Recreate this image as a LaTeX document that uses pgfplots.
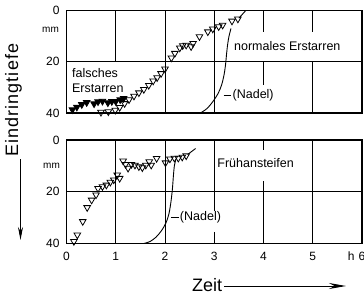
\documentclass[border=0pt]{standalone}
\usepackage{fontspec}
\setmainfont{Liberation Sans}
\newfontfamily\spacedfont[LetterSpace=6]{Liberation Sans}
\usepackage{pgfplots}
\pgfplotsset{compat=1.18}
\usetikzlibrary{arrows.meta}

\pgfplotstableread{
x y
0.12 38.7
0.21 37.7
0.31 36.7
0.41 35.9
0.56 36.4
0.64 35.6
0.73 35.4
0.84 36.0
0.92 35.5
1.00 35.5
1.09 34.8
1.16 34.3
}\topfilled

\pgfplotstableread{
x y
0.70 39.7
0.85 39.5
0.99 38.9
1.08 37.8
1.18 36.3
1.27 34.8
1.37 33.4
1.47 32.1
1.57 30.8
1.67 29.2
1.76 27.5
1.84 26.2
1.92 24.6
2.00 22.8
2.13 18.5
2.20 16.7
2.30 14.6
2.36 13.7
2.43 13.5
2.53 14.1
2.57 12.8
2.70 10.2
2.87 8.3
2.97 7.2
3.09 6.3
3.17 5.7
3.36 4.1
3.48 3.3
}\topopen

\pgfplotstableread{
x y
0.15 39.2
0.22 36.7
0.33 31.5
0.42 26.1
0.51 23.2
0.60 21.2
0.64 18.7
0.73 18.0
0.81 17.4
0.89 16.3
0.96 15.4
1.03 13.5
1.08 14.8
1.15 8.1
1.20 9.4
1.25 10.9
1.32 9.4
1.39 9.7
1.47 10.3
1.54 10.7
1.61 9.7
1.68 8.4
1.72 9.7
1.83 7.1
2.01 8.8
2.10 7.3
2.19 7.0
2.27 7.0
2.35 6.6
2.43 6.1
}\botopen

\tikzset{gl/.style={line width=0.7pt}}

\begin{document}
\begin{tikzpicture}[x=1pt,y=1pt]
\useasboundingbox (0,0) rectangle (364,298);
\pgfplotsset{
  base/.style={
    scale only axis, width=295.5pt,
    xmin=0, xmax=6, ymin=0, ymax=40, y dir=reverse,
    axis line style={line width=1.1pt},
    major tick length=0pt,
    ytick={0,20,40}, xtick={0,1,2,3,4,5,6},
    /pgf/number format/assume math mode=true,
    yticklabel style={font=\fontsize{12}{12}\selectfont, xshift=-3.5pt},
    xticklabel style={font=\fontsize{12}{12}\selectfont, yshift=-5pt},
    clip=false,
    tick style={draw=none},
  },
  op/.style={only marks, mark=triangle, mark size=3.8pt, mark options={rotate=180, line width=0.8pt, fill=white}},
  fl/.style={only marks, mark=triangle*, mark size=3.8pt, mark options={rotate=180, line width=0.8pt, fill=black}},
  nd/.style={smooth, line width=0.9pt, no marks},
}

% ---------- top axis ----------
\begin{axis}[base, height=102.5pt, at={(66.5pt,185pt)}, anchor=south west, xticklabels={}]
\draw[gl] (axis cs:1,0) -- (axis cs:1,20);
\draw[gl] (axis cs:2,0) -- (axis cs:2,40);
\draw[gl] (axis cs:3,0) -- (axis cs:3,40);
\draw[gl] (axis cs:4,0) -- (axis cs:4,8.4);
\draw[gl] (axis cs:4,20) -- (axis cs:4,29);
\draw[gl] (axis cs:5,0) -- (axis cs:5,8.4);
\draw[gl] (axis cs:5,20) -- (axis cs:5,40);
\draw[gl] (axis cs:0,20) -- (axis cs:6,20);
\addplot[op] table {\topopen};
\addplot[fl] table {\topfilled};
\addplot[nd] coordinates {(2.72,40) (2.85,38.3) (2.97,35.6) (3.08,32.3) (3.15,29) (3.20,25) (3.23,21) (3.25,17) (3.27,13.5) (3.30,10) (3.34,7)};
\addplot[line width=0.9pt, no marks] coordinates {(3.50,3.0) (3.64,0)};
\node[anchor=west, align=left, inner sep=0pt, font=\fontsize{12.5}{14.7}\selectfont] at (axis cs:0.11,27.2) {falsches\\Erstarren};
\node[anchor=west, inner sep=0pt, font=\fontsize{12.5}{12.5}\selectfont] at (axis cs:3.40,13.9) {normales Erstarren};
\draw[line width=0.8pt] (axis cs:3.19,33) -- (axis cs:3.35,33);
\node[anchor=west, inner sep=0pt, font=\fontsize{12.5}{12.5}\selectfont] at (axis cs:3.37,33) {(Nadel)};
\end{axis}

% ---------- bottom axis ----------
\begin{axis}[base, height=103.5pt, at={(66.5pt,54.5pt)}, anchor=south west,
  xticklabels={0,1,2,3,4,5,{\llap{h\hspace{4pt}}6}}]
\draw[gl] (axis cs:1,0) -- (axis cs:1,40);
\draw[gl] (axis cs:2,0) -- (axis cs:2,40);
\draw[gl] (axis cs:3,0) -- (axis cs:3,27.5);
\draw[gl] (axis cs:3,35.5) -- (axis cs:3,40);
\draw[gl] (axis cs:4,0) -- (axis cs:4,4);
\draw[gl] (axis cs:4,16) -- (axis cs:4,40);
\draw[gl] (axis cs:5,0) -- (axis cs:5,40);
\draw[gl] (axis cs:0,20) -- (axis cs:6,20);
\addplot[op] table {\botopen};
\addplot[nd] coordinates {(1.57,40) (1.70,39.2) (1.82,37.5) (1.93,35) (2.02,32) (2.08,28.5) (2.12,24) (2.15,19) (2.17,14) (2.19,10) (2.22,7.5)};
\addplot[line width=0.9pt, no marks] coordinates {(2.46,5.6) (2.62,3.3)};
\node[anchor=west, inner sep=0pt, font=\fontsize{12.5}{12.5}\selectfont] at (axis cs:3.06,8.9) {Frühansteifen};
\draw[line width=0.8pt] (axis cs:2.12,30) -- (axis cs:2.28,30);
\node[anchor=west, inner sep=0pt, font=\fontsize{12.5}{12.5}\selectfont] at (axis cs:2.30,30) {(Nadel)};
\end{axis}

% ---------- outer labels ----------
\node[font=\fontsize{10}{10}\selectfont, inner sep=0pt] at (50.5,268) {mm};
\node[font=\fontsize{10}{10}\selectfont, inner sep=0pt] at (51.5,132) {mm};
\node[rotate=90, anchor=base west, inner sep=0pt, font=\spacedfont\fontsize{18}{18}\selectfont] at (18pt,141pt) {Eindringtiefe};
\draw[line width=1pt, -{Stealth[length=13pt,width=5pt]}] (20.5,139) -- (20.5,58);
\node[anchor=base west, inner sep=0pt, font=\fontsize{18}{18}\selectfont] at (192,6.5) {Zeit};
\draw[line width=1pt, -{Stealth[length=17pt,width=6pt]}] (224,12) -- (346,12);
\end{tikzpicture}
\end{document}
